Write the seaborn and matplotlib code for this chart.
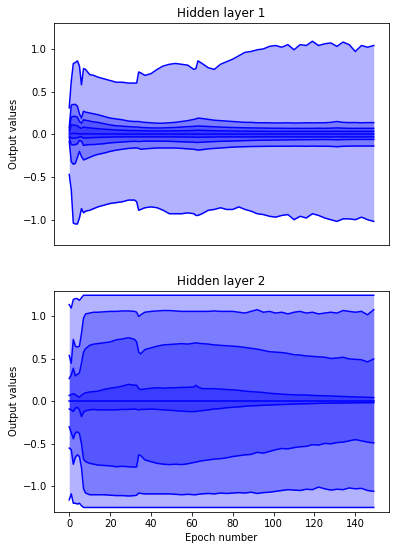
import matplotlib
matplotlib.use("Agg")
import matplotlib.pyplot as plt
import seaborn as sns

EPOCHS = [0, 1, 2, 3, 4, 5, 6, 7, 8, 10,
          12, 14, 17, 20, 23, 26, 29, 32, 33, 34,
          35, 37, 40, 43, 46, 49, 52, 55, 58, 61,
          62, 63, 65, 68, 71, 74, 77, 80, 83, 86,
          89, 92, 95, 98, 101, 104, 107, 110, 113, 116,
          119, 122, 125, 128, 131, 134, 137, 140, 143, 146,
          149]

# Hidden layer 1
h1_max = [0.31, 0.62, 0.83, 0.84, 0.86, 0.80, 0.58, 0.77, 0.76, 0.70,
          0.69, 0.67, 0.65, 0.63, 0.61, 0.61, 0.60, 0.60, 0.60, 0.73,
          0.72, 0.69, 0.71, 0.76, 0.80, 0.82, 0.83, 0.82, 0.81, 0.76,
          0.77, 0.86, 0.83, 0.78, 0.76, 0.82, 0.85, 0.88, 0.92, 0.96,
          0.97, 0.99, 1.00, 1.03, 1.04, 1.02, 1.05, 0.99, 1.05, 1.04,
          1.09, 1.04, 1.06, 1.07, 1.03, 1.08, 1.05, 0.97, 1.04, 1.02,
          1.04]
h1_p90 = [0.08, 0.34, 0.35, 0.35, 0.33, 0.24, 0.19, 0.27, 0.26, 0.25,
          0.24, 0.23, 0.21, 0.19, 0.18, 0.17, 0.155, 0.15, 0.15, 0.15,
          0.145, 0.14, 0.135, 0.13, 0.13, 0.135, 0.14, 0.15, 0.16, 0.175,
          0.18, 0.19, 0.185, 0.175, 0.165, 0.16, 0.155, 0.15, 0.145, 0.14,
          0.14, 0.135, 0.135, 0.135, 0.133, 0.133, 0.135, 0.132, 0.133, 0.135,
          0.134, 0.135, 0.135, 0.14, 0.15, 0.14, 0.137, 0.138, 0.135, 0.137,
          0.137]
h1_p75 = [0.05, 0.20, 0.21, 0.21, 0.20, 0.15, 0.13, 0.17, 0.165, 0.155,
          0.145, 0.14, 0.125, 0.11, 0.10, 0.095, 0.09, 0.085, 0.085, 0.085,
          0.08, 0.078, 0.075, 0.074, 0.075, 0.078, 0.08, 0.085, 0.09, 0.093,
          0.095, 0.097, 0.095, 0.092, 0.088, 0.085, 0.082, 0.08, 0.078, 0.076,
          0.075, 0.074, 0.073, 0.072, 0.071, 0.071, 0.07, 0.07, 0.07, 0.07,
          0.07, 0.071, 0.07, 0.072, 0.075, 0.072, 0.07, 0.07, 0.07, 0.07,
          0.07]
h1_p60 = [0.02, 0.11, 0.11, 0.105, 0.10, 0.08, 0.07, 0.085, 0.08, 0.075,
          0.07, 0.066, 0.06, 0.055, 0.05, 0.048, 0.045, 0.044, 0.044, 0.044,
          0.042, 0.041, 0.04, 0.04, 0.04, 0.04, 0.041, 0.042, 0.043, 0.045,
          0.046, 0.047, 0.046, 0.044, 0.042, 0.041, 0.04, 0.039, 0.038, 0.037,
          0.037, 0.036, 0.036, 0.035, 0.035, 0.035, 0.035, 0.035, 0.035, 0.035,
          0.035, 0.035, 0.035, 0.035, 0.036, 0.035, 0.035, 0.035, 0.035, 0.035,
          0.035]
h1_med = [0.0, 0.01, 0.01, 0.01, 0.008, 0.005, 0.003, 0.006, 0.006, 0.005,
          0.005, 0.005, 0.004, 0.004, 0.003, 0.003, 0.003, 0.003, 0.003, 0.003,
          0.003, 0.003, 0.003, 0.003, 0.003, 0.003, 0.003, 0.003, 0.003, 0.003,
          0.003, 0.003, 0.003, 0.003, 0.003, 0.003, 0.003, 0.003, 0.003, 0.003,
          0.003, 0.003, 0.003, 0.003, 0.003, 0.003, 0.003, 0.003, 0.003, 0.003,
          0.003, 0.003, 0.003, 0.003, 0.003, 0.003, 0.003, 0.003, 0.003, 0.003,
          0.003]
h1_p40 = [-0.02, -0.045, -0.045, -0.043, -0.04, -0.03, -0.03, -0.045, -0.043, -0.04,
          -0.038, -0.036, -0.034, -0.032, -0.03, -0.03, -0.03, -0.03, -0.03, -0.03,
          -0.03, -0.03, -0.03, -0.03, -0.03, -0.03, -0.03, -0.031, -0.032, -0.033,
          -0.034, -0.034, -0.033, -0.032, -0.031, -0.03, -0.03, -0.03, -0.03, -0.03,
          -0.03, -0.03, -0.03, -0.03, -0.03, -0.03, -0.03, -0.03, -0.03, -0.03,
          -0.03, -0.03, -0.03, -0.03, -0.03, -0.03, -0.03, -0.03, -0.03, -0.03,
          -0.03]
h1_p25 = [-0.04, -0.12, -0.125, -0.12, -0.11, -0.07, -0.08, -0.13, -0.125, -0.12,
          -0.12, -0.115, -0.11, -0.10, -0.095, -0.09, -0.085, -0.082, -0.082, -0.085,
          -0.083, -0.08, -0.08, -0.08, -0.08, -0.082, -0.085, -0.087, -0.09, -0.092,
          -0.095, -0.095, -0.092, -0.088, -0.085, -0.082, -0.08, -0.078, -0.076, -0.074,
          -0.072, -0.07, -0.069, -0.068, -0.067, -0.066, -0.065, -0.064, -0.063, -0.063,
          -0.062, -0.062, -0.061, -0.062, -0.064, -0.062, -0.061, -0.06, -0.06, -0.06,
          -0.06]
h1_p10 = [-0.08, -0.32, -0.35, -0.34, -0.27, -0.20, -0.26, -0.30, -0.29, -0.27,
          -0.25, -0.235, -0.22, -0.20, -0.185, -0.175, -0.165, -0.16, -0.16, -0.165,
          -0.175, -0.17, -0.165, -0.16, -0.16, -0.16, -0.16, -0.165, -0.17, -0.175,
          -0.18, -0.185, -0.18, -0.17, -0.165, -0.16, -0.155, -0.15, -0.147, -0.145,
          -0.143, -0.142, -0.141, -0.14, -0.14, -0.139, -0.14, -0.138, -0.139, -0.14,
          -0.138, -0.14, -0.139, -0.141, -0.145, -0.14, -0.138, -0.137, -0.137, -0.137,
          -0.137]
h1_min = [-0.47, -0.65, -1.04, -1.05, -1.05, -0.98, -0.87, -0.92, -0.90, -0.89,
          -0.87, -0.85, -0.83, -0.81, -0.80, -0.79, -0.77, -0.77, -0.79, -0.89,
          -0.88, -0.86, -0.85, -0.86, -0.89, -0.93, -0.93, -0.93, -0.92, -0.93,
          -0.95, -0.95, -0.93, -0.89, -0.88, -0.86, -0.88, -0.88, -0.85, -0.88,
          -0.90, -0.93, -0.94, -0.96, -0.97, -0.95, -0.94, -1.00, -0.96, -0.98,
          -0.93, -0.95, -0.98, -1.00, -1.02, -0.99, -0.99, -1.00, -0.97, -1.00,
          -1.02]

# Hidden layer 2
h2_max = [1.14, 1.10, 1.20, 1.21, 1.21, 1.19, 1.22, 1.25, 1.25, 1.25,
          1.25, 1.25, 1.25, 1.25, 1.25, 1.25, 1.25, 1.25, 1.25, 1.25,
          1.25, 1.25, 1.25, 1.25, 1.25, 1.25, 1.25, 1.25, 1.25, 1.25,
          1.25, 1.25, 1.25, 1.25, 1.25, 1.25, 1.25, 1.25, 1.25, 1.25,
          1.25, 1.25, 1.25, 1.25, 1.25, 1.25, 1.25, 1.25, 1.25, 1.25,
          1.25, 1.25, 1.25, 1.25, 1.25, 1.25, 1.25, 1.25, 1.25, 1.25,
          1.25]
h2_p90 = [0.54, 0.45, 0.73, 0.65, 0.64, 0.65, 0.80, 0.98, 1.03, 1.04,
          1.05, 1.05, 1.055, 1.06, 1.06, 1.065, 1.065, 1.06, 1.05, 1.00,
          1.02, 1.05, 1.06, 1.065, 1.07, 1.07, 1.065, 1.06, 1.06, 1.06,
          1.06, 1.06, 1.06, 1.06, 1.065, 1.06, 1.06, 1.06, 1.05, 1.04,
          1.06, 1.08, 1.05, 1.06, 1.04, 1.05, 1.03, 1.05, 1.06, 1.04,
          1.05, 1.03, 1.04, 1.05, 1.04, 1.07, 1.06, 1.05, 1.06, 1.02,
          1.08]
h2_p75 = [0.27, 0.31, 0.39, 0.30, 0.32, 0.335, 0.45, 0.58, 0.62, 0.66,
          0.675, 0.68, 0.69, 0.70, 0.725, 0.735, 0.75, 0.73, 0.70, 0.58,
          0.56, 0.61, 0.63, 0.65, 0.665, 0.67, 0.675, 0.68, 0.675, 0.685,
          0.69, 0.685, 0.68, 0.675, 0.665, 0.66, 0.655, 0.65, 0.645, 0.635,
          0.625, 0.615, 0.60, 0.585, 0.58, 0.575, 0.565, 0.55, 0.545, 0.535,
          0.53, 0.525, 0.52, 0.505, 0.51, 0.52, 0.50, 0.495, 0.49, 0.465,
          0.50]
h2_p60 = [0.07, 0.08, 0.09, 0.08, 0.06, 0.05, 0.07, 0.09, 0.10, 0.11,
          0.115, 0.12, 0.14, 0.155, 0.165, 0.18, 0.20, 0.19, 0.19, 0.15,
          0.14, 0.145, 0.155, 0.16, 0.155, 0.16, 0.16, 0.165, 0.165, 0.17,
          0.19, 0.17, 0.15, 0.15, 0.15, 0.145, 0.14, 0.135, 0.13, 0.12,
          0.115, 0.11, 0.105, 0.095, 0.09, 0.085, 0.08, 0.078, 0.075, 0.075,
          0.07, 0.068, 0.065, 0.063, 0.06, 0.058, 0.055, 0.052, 0.05, 0.048,
          0.045]
h2_med = [0.004, 0.004, 0.004, 0.004, 0.004, 0.004, 0.004, 0.004, 0.004, 0.004,
          0.004, 0.004, 0.004, 0.004, 0.004, 0.004, 0.004, 0.004, 0.004, 0.004,
          0.004, 0.004, 0.004, 0.004, 0.004, 0.004, 0.004, 0.004, 0.004, 0.004,
          0.004, 0.004, 0.004, 0.004, 0.004, 0.004, 0.004, 0.004, 0.004, 0.004,
          0.004, 0.004, 0.004, 0.004, 0.004, 0.004, 0.004, 0.004, 0.004, 0.004,
          0.004, 0.004, 0.004, 0.004, 0.004, 0.004, 0.004, 0.004, 0.004, 0.004,
          0.004]
h2_p40 = [-0.09, -0.10, -0.12, -0.08, -0.07, -0.10, -0.18, -0.13, -0.11, -0.10,
          -0.095, -0.10, -0.10, -0.10, -0.10, -0.095, -0.095, -0.09, -0.095, -0.10,
          -0.095, -0.095, -0.09, -0.095, -0.10, -0.105, -0.11, -0.115, -0.12, -0.12,
          -0.12, -0.115, -0.11, -0.10, -0.09, -0.085, -0.075, -0.07, -0.065, -0.058,
          -0.053, -0.05, -0.046, -0.043, -0.04, -0.038, -0.035, -0.032, -0.03, -0.028,
          -0.026, -0.024, -0.022, -0.021, -0.02, -0.019, -0.018, -0.017, -0.016, -0.016,
          -0.015]
h2_p25 = [-0.30, -0.37, -0.44, -0.37, -0.36, -0.38, -0.50, -0.68, -0.71, -0.73,
          -0.74, -0.75, -0.755, -0.76, -0.77, -0.765, -0.77, -0.775, -0.77, -0.63,
          -0.64, -0.69, -0.71, -0.73, -0.74, -0.745, -0.74, -0.745, -0.735, -0.72,
          -0.715, -0.71, -0.70, -0.69, -0.68, -0.675, -0.665, -0.65, -0.64, -0.63,
          -0.625, -0.60, -0.61, -0.59, -0.57, -0.555, -0.56, -0.545, -0.535, -0.53,
          -0.51, -0.515, -0.495, -0.50, -0.485, -0.48, -0.465, -0.45, -0.465, -0.48,
          -0.49]
h2_p10 = [-0.55, -0.57, -0.74, -0.66, -0.63, -0.65, -0.78, -1.03, -1.08, -1.10,
          -1.10, -1.10, -1.10, -1.105, -1.11, -1.11, -1.115, -1.11, -1.105, -1.08,
          -1.085, -1.09, -1.09, -1.09, -1.09, -1.09, -1.095, -1.10, -1.095, -1.10,
          -1.10, -1.095, -1.09, -1.085, -1.09, -1.08, -1.085, -1.08, -1.075, -1.08,
          -1.07, -1.085, -1.075, -1.07, -1.06, -1.05, -1.04, -1.045, -1.05, -1.035,
          -1.04, -1.01, -1.03, -1.045, -1.035, -1.04, -1.02, -1.03, -1.025, -1.05,
          -1.06]
h2_min = [-1.16, -1.09, -1.20, -1.20, -1.21, -1.20, -1.23, -1.25, -1.25, -1.25,
          -1.25, -1.25, -1.25, -1.25, -1.25, -1.25, -1.25, -1.25, -1.25, -1.25,
          -1.25, -1.25, -1.25, -1.25, -1.25, -1.25, -1.25, -1.25, -1.25, -1.25,
          -1.25, -1.25, -1.25, -1.25, -1.25, -1.25, -1.25, -1.25, -1.25, -1.25,
          -1.25, -1.25, -1.25, -1.25, -1.25, -1.25, -1.25, -1.25, -1.25, -1.25,
          -1.25, -1.25, -1.25, -1.25, -1.25, -1.25, -1.25, -1.25, -1.25, -1.25,
          -1.25]

TITLES = ["Hidden layer 1", "Hidden layer 2"]


def draw_layer(ax, curves, title):
    """curves: lista ordenada de baixo para cima (min ... max)."""
    n = len(curves)
    # faixas simetricas, da mais externa para a mais interna
    for i in range(n // 2):
        ax.fill_between(EPOCHS, curves[i], curves[n - 1 - i],
                        color="blue", alpha=0.3, linewidth=0)
    for c in curves:
        sns.lineplot(x=EPOCHS, y=c, color="blue", linewidth=1.5, ax=ax)
    ax.set_title(title)
    ax.set_ylabel("Output values")
    ax.set_ylim(-1.3, 1.3)
    ax.set_yticks([-1.0, -0.5, 0.0, 0.5, 1.0])


fig = plt.figure(figsize=(395 / 72, 546 / 72), dpi=72)
ax1 = fig.add_axes([0.1367, 0.5507, 0.848, 0.4066])
ax2 = fig.add_axes([0.1367, 0.0628, 0.848, 0.4042])

draw_layer(ax1, [h1_min, h1_p10, h1_p25, h1_p40, h1_med,
                 h1_p60, h1_p75, h1_p90, h1_max], TITLES[0])
draw_layer(ax2, [h2_min, h2_p10, h2_p25, h2_p40, h2_med,
                 h2_p60, h2_p75, h2_p90, h2_max], TITLES[1])

ax1.set_xlim(-7.45, 156.45)
ax2.set_xlim(-7.45, 156.45)
ax1.set_xticks([])
ax2.set_xlabel("Epoch number")

fig.savefig("out.png", dpi=72)
plt.close(fig)
